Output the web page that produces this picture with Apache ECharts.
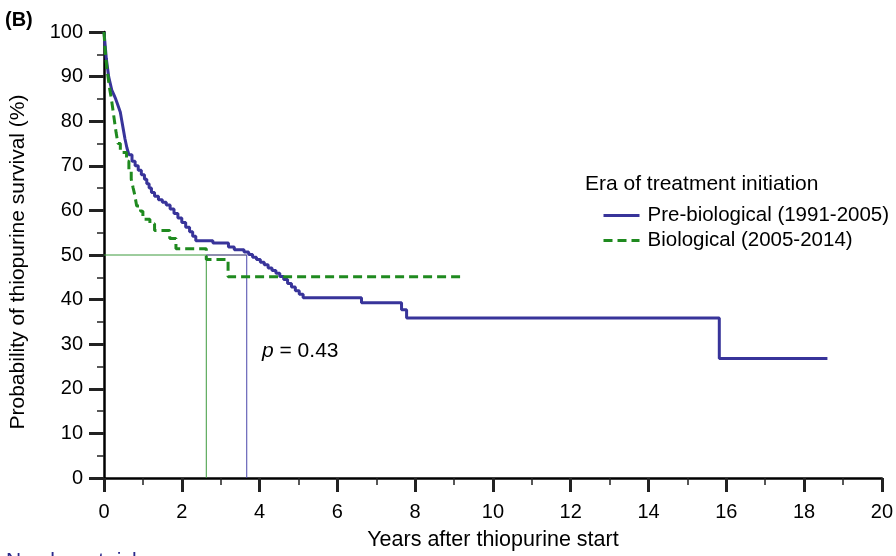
<!DOCTYPE html>
<html>
<head>
<meta charset="utf-8">
<script src="https://cdn.jsdelivr.net/npm/echarts@6/dist/echarts.min.js"></script>
<style>
html,body{margin:0;padding:0;background:#fff;}
#chart{width:896px;height:556px;}
</style>
</head>
<body>
<div id="chart"></div>
<script>
// Kaplan-Meier step points: [years, survival %] (value after the event at that time)
const preBiological = [
  [0,100],[0.02,98],[0.04,96],[0.06,94],[0.09,92],[0.12,90],[0.16,88.5],[0.2,87],[0.25,86],
  [0.3,85],[0.34,84],[0.38,83],[0.42,82],[0.46,80],[0.5,78],[0.54,76],[0.59,74],[0.64,72.5],
  [0.72,71],[0.8,70],[0.88,69],[0.96,68],[1.04,67],[1.1,66],[1.16,65],[1.22,64],[1.3,63.2],
  [1.4,62.4],[1.5,61.8],[1.6,61.2],[1.7,60.3],[1.8,59.3],[1.9,58.3],[2.0,57.3],[2.1,56.2],
  [2.2,55.2],[2.28,54.2],[2.36,53.2],[2.8,52.7],[3.2,51.8],[3.35,51.2],[3.6,50.7],[3.72,50.1],
  [3.82,49.5],[3.92,49],[4.02,48.4],[4.12,47.8],[4.22,47.1],[4.32,46.5],[4.42,45.9],[4.52,45.2],
  [4.62,44.5],[4.72,43.6],[4.82,42.8],[4.92,42],[5.02,41.2],[5.12,40.4],[6.62,39.3],[7.65,37.7],
  [7.78,35.9],[15.82,26.8],[18.6,26.8]
];
const biological = [
  [0,100],[0.02,97],[0.05,94],[0.08,91.5],[0.11,89.5],[0.15,87],[0.19,85],[0.23,82.5],[0.27,80],
  [0.31,77.5],[0.36,75],[0.42,73],[0.58,71],[0.64,69],[0.7,67],[0.75,65],[0.79,63.5],[0.84,61],
  [0.94,59.8],[1.0,58],[1.18,57],[1.3,55.5],[1.69,53.7],[1.85,51.4],[2.63,49.0],[3.19,45.1],[9.26,45.1]
];
const medianBiological = 2.63;
const medianPreBiological = 3.67;
const seriesNames = ['Pre-biological (1991-2005)', 'Biological (2005-2014)'];
const xTicks = [0, 20, 2];
const yTicks = [0, 100, 10];

const BLUE = '#38349a';
const GREEN = '#1f8a1f';
const FONT = 'Liberation Sans, Arial, Helvetica, sans-serif';

const chart = echarts.init(document.getElementById('chart'), null, {renderer: 'canvas'});
chart.setOption({
  animation: false,
  backgroundColor: '#fff',
  textStyle: {fontFamily: FONT, color: '#000'},
  grid: {left: 104, right: 12, top: 32, bottom: 75, containLabel: false},
  xAxis: {
    type: 'value', min: xTicks[0], max: xTicks[1], interval: xTicks[2],
    name: 'Years after thiopurine start', nameLocation: 'middle', nameGap: 51,
    nameTextStyle: {fontSize: 21.5, color: '#000', fontFamily: FONT},
    axisLine: {show: true, onZero: false, lineStyle: {color: '#000', width: 2.5}},
    axisTick: {show: true, length: 14, lineStyle: {color: '#222', width: 3}},
    minorTick: {show: true, splitNumber: 2, length: 7, lineStyle: {color: '#222', width: 1.5}},
    axisLabel: {fontSize: 20, color: '#000', margin: 24, fontFamily: FONT},
    splitLine: {show: false}
  },
  yAxis: {
    type: 'value', min: yTicks[0], max: yTicks[1], interval: yTicks[2],
    name: 'Probability of thiopurine survival (%)', nameLocation: 'middle', nameGap: 75,
    nameRotate: 90,
    nameTextStyle: {fontSize: 21, color: '#000', fontFamily: FONT, padding: [0, 14, 0, 0]},
    axisLine: {show: true, onZero: false, lineStyle: {color: '#000', width: 2.5}},
    axisTick: {show: true, length: 15, lineStyle: {color: '#222', width: 3}},
    minorTick: {show: true, splitNumber: 2, length: 7, lineStyle: {color: '#222', width: 1.5}},
    axisLabel: {fontSize: 20, color: '#000', margin: 21, fontFamily: FONT},
    splitLine: {show: false}
  },
  legend: {
    orient: 'vertical', left: 597, top: 200, itemWidth: 36, itemHeight: 14, itemGap: 4,
    data: seriesNames,
    itemStyle: {opacity: 0},
    lineStyle: {width: 3},
    textStyle: {fontSize: 20.5, color: '#000', fontFamily: FONT, padding: [0, 0, 0, 3]}
  },
  graphic: [
    {type: 'text', left: 5, top: 10, style: {text: '(B)', font: 'bold 20px ' + FONT, fill: '#000'}},
    {type: 'text', left: 585, top: 174, style: {text: 'Era of treatment initiation', font: '21px ' + FONT, fill: '#000'}},
    {type: 'text', left: 262, top: 341, style: {
      text: '{i|p} = 0.43', font: '21px ' + FONT, fill: '#000',
      rich: {i: {fontStyle: 'italic', fontSize: 21, fontFamily: FONT}}
    }},
    {type: 'text', left: 6, top: 551, style: {text: 'Number at risk', font: '21px ' + FONT, fill: '#2b2a8c'}}
  ],
  series: [
    {
      name: 'median-bio', type: 'line', silent: true, symbol: 'none', z: 1,
      data: [[0, 50], [medianBiological, 50], [medianBiological, 0]],
      lineStyle: {color: '#3d9a3d', width: 1}
    },
    {
      name: 'median-pre-h', type: 'line', silent: true, symbol: 'none', z: 1,
      data: [[medianBiological, 50], [medianPreBiological, 50]],
      lineStyle: {color: '#1c1a5c', width: 1}
    },
    {
      name: 'median-pre-v', type: 'line', silent: true, symbol: 'none', z: 1,
      data: [[medianPreBiological, 50], [medianPreBiological, 0]],
      lineStyle: {color: '#4a46aa', width: 1}
    },
    {
      name: seriesNames[0], type: 'line', step: 'end', symbol: 'none', z: 3,
      data: preBiological, color: BLUE,
      lineStyle: {color: BLUE, width: 3}
    },
    {
      name: seriesNames[1], type: 'line', step: 'end', symbol: 'none', z: 4,
      data: biological, color: GREEN,
      lineStyle: {color: GREEN, width: 3, type: [9, 5]}
    }
  ]
});
</script>
</body>
</html>
